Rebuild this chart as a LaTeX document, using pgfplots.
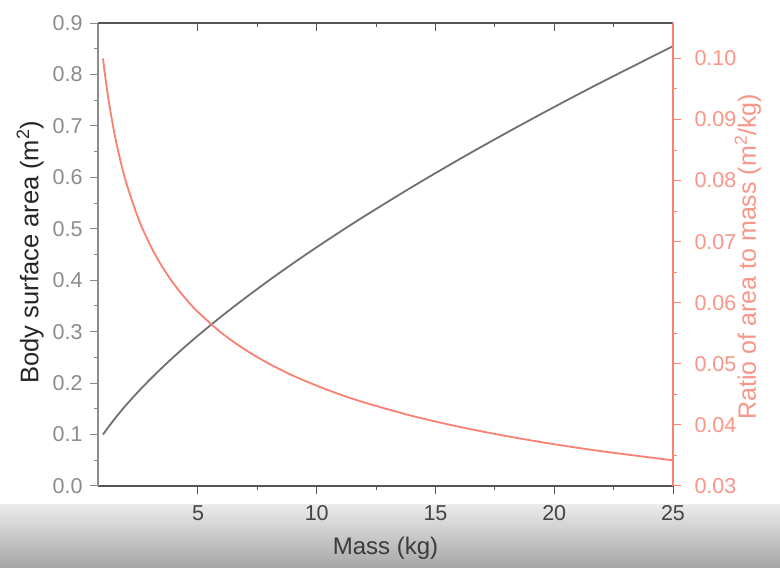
\documentclass[border=0pt]{standalone}
\usepackage{pgfplots}
\pgfplotsset{compat=1.18}
\usepackage{fontspec}
\setmainfont{Liberation Sans}

\definecolor{salmonline}{RGB}{250,128,114}
\definecolor{salmontext}{RGB}{249,150,135}
\definecolor{bsagray}{RGB}{112,112,112}
\definecolor{leftgray}{RGB}{140,140,140}
\definecolor{darkaxis}{RGB}{85,85,85}

% mass (kg), body surface area (m^2), ratio (m^2/kg)
\pgfplotstableread{
m      bsa     ratio
1      0.1000  0.10000
1.1    0.1066  0.09687
1.25   0.1160  0.09283
1.5    0.1310  0.08736
1.75   0.1452  0.08298
2      0.1587  0.07937
2.5    0.1842  0.07368
3      0.2080  0.06934
3.5    0.2305  0.06586
4      0.2520  0.06300
4.5    0.2726  0.06057
5      0.2924  0.05848
6      0.3302  0.05503
7      0.3659  0.05228
8      0.4000  0.05000
9      0.4327  0.04807
10     0.4642  0.04642
11     0.4946  0.04496
12     0.5242  0.04368
14     0.5809  0.04149
16     0.6350  0.03969
18     0.6868  0.03816
20     0.7368  0.03684
22     0.7851  0.03569
25     0.8550  0.03420
}\datatable

\begin{document}
\begin{tikzpicture}
\useasboundingbox (0,0) rectangle (780pt,568pt);
\fill[white] (0,0) rectangle (780pt,568pt);
\shade[top color=gray!16, bottom color=gray!70] (0,0) rectangle (780pt,63pt);

\pgfplotsset{
  every axis/.append style={
    scale only axis, width=575pt, height=463pt,
    at={(98pt,82pt)}, anchor=south west,
    xmin=0.79, xmax=25,
    /pgf/number format/assume math mode=true,
    major tick length=8pt, minor tick length=4pt,
    tick style={line width=1pt},
  },
}

% left axis: body surface area
\begin{axis}[
  axis x line*=bottom, axis y line*=left,
  tick align=outside,
  ymin=0, ymax=0.9,
  xtick={5,10,15,20,25},
  minor x tick num=1,
  ytick={0,0.1,...,0.9},
  minor y tick num=1,
  yticklabel style={/pgf/number format/fixed, /pgf/number format/fixed zerofill, /pgf/number format/precision=1, text=leftgray, xshift=-4pt, font=\fontsize{21.5}{25}\selectfont},
  x axis line style={darkaxis, line width=1.2pt, -},
  y axis line style={leftgray, line width=1.2pt, -},
  xtick style={darkaxis},
  ytick style={leftgray},
  xticklabel style={text=darkaxis!80!black, yshift=-8pt, font=\fontsize{21.5}{25}\selectfont},
  xlabel={Mass (kg)},
  ylabel={Body surface area (m\textsuperscript{2})},
  every axis x label/.style={at={(axis description cs:0.5,-0.134)}, anchor=center, text=darkaxis!70!black, font=\fontsize{24}{29}\selectfont},
  every axis y label/.style={at={(axis description cs:-0.118,0.505)}, anchor=center, rotate=90, text=black!85, font=\fontsize{25.5}{30}\selectfont},
]
\addplot[bsagray, line width=1.8pt, smooth] table[x=m, y=bsa] {\datatable};
\end{axis}

% top axis line with inward ticks
\begin{axis}[
  axis x line*=top, axis y line=none,
  tick align=inside,
  ymin=0, ymax=1,
  xtick={5,10,15,20,25},
  minor x tick num=1,
  xticklabels={},
  x axis line style={darkaxis, line width=1.2pt, -},
  xtick style={darkaxis},
]
\addplot[draw=none] coordinates {(1,0.5)};
\end{axis}

% right axis: ratio of area to mass
\begin{axis}[
  axis y line*=right, axis x line=none,
  tick align=outside,
  ymin=0.03, ymax=0.1058,
  ytick={0.03,0.04,...,0.10},
  minor y tick num=1,
  yticklabel style={/pgf/number format/fixed, /pgf/number format/fixed zerofill, /pgf/number format/precision=2, text=salmontext, xshift=10pt, font=\fontsize{21.5}{25}\selectfont},
  y axis line style={salmonline, line width=1.2pt, -},
  ytick style={salmonline},
  ylabel={Ratio of area to mass (m\textsuperscript{2}/kg)},
  every axis y label/.style={at={(axis description cs:1.13,0.495)}, anchor=center, rotate=90, text=salmontext, font=\fontsize{25}{30}\selectfont},
]
\addplot[salmonline, line width=1.8pt, smooth] table[x=m, y=ratio] {\datatable};
\end{axis}
\end{tikzpicture}
\end{document}
